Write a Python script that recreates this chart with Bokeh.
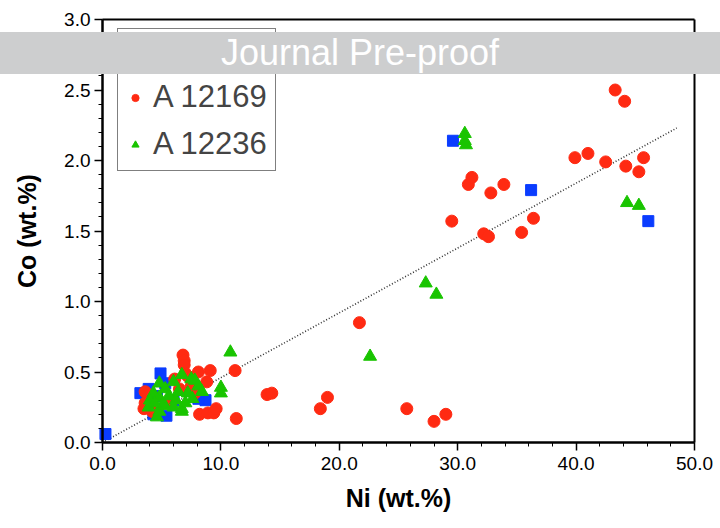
from bokeh.plotting import figure
from bokeh.models import (SingleIntervalTicker, NumeralTickFormatter, Legend, LegendItem,
                          Label, Range1d, LinearAxis, FixedTicker)
from bokeh.core.properties import value
from bokeh.embed import file_html
from bokeh.resources import INLINE
import bokeh.models as bm

# A 12169 (red circles)
a12169_ni = [29.5, 30.9, 31.2, 32.8, 33.9, 32.2, 32.6, 35.4, 36.4, 39.9, 41.0, 42.5, 44.2, 45.7, 45.3, 43.3, 44.1,
             21.7, 19.0, 18.4, 25.7, 28.0, 29.0, 13.9, 14.3,
             6.8, 6.9, 6.9, 7.0, 9.1, 11.2, 11.3, 8.2, 8.9, 9.4, 9.6, 8.1, 8.8, 3.6, 3.5, 3.6, 6.1, 7.5, 7.8, 5.6,
             4.2, 7.2, 6.5]
a12169_co = [1.57, 1.83, 1.88, 1.77, 1.83, 1.48, 1.46, 1.49, 1.59, 2.02, 2.05, 1.99, 1.96, 2.02, 1.92, 2.50, 2.42,
             0.85, 0.32, 0.24, 0.24, 0.15, 0.20, 0.34, 0.35,
             0.62, 0.58, 0.55, 0.49, 0.51, 0.51, 0.17, 0.20, 0.21, 0.21, 0.24, 0.50, 0.43, 0.36, 0.24, 0.28, 0.45,
             0.40, 0.35, 0.29, 0.22, 0.47, 0.38]

# third sample (blue squares)
blue_ni = [0.25, 4.9, 3.2, 8.7, 8.1, 5.3, 4.3, 5.4, 3.9, 29.6, 36.2, 46.1, 6.0, 4.6]
blue_co = [0.06, 0.49, 0.35, 0.30, 0.31, 0.42, 0.20, 0.19, 0.38, 2.14, 1.79, 1.57, 0.30, 0.33]

# A 12236 (green triangles)
a12236_ni = [30.6, 30.6, 30.7, 44.3, 45.3, 22.6, 28.2, 27.3, 10.8, 10.0, 10.0, 6.7, 6.0, 7.5, 7.8, 4.8, 5.3, 6.4,
             4.3, 4.8, 4.0, 5.2, 6.0, 6.7, 4.6, 6.7, 7.6, 7.2, 8.1, 3.9, 4.8, 5.6, 6.2, 7.0, 5.0, 4.4, 8.4]
a12236_co = [2.19, 2.14, 2.11, 1.70, 1.68, 0.61, 1.05, 1.13, 0.64, 0.39, 0.35, 0.48, 0.43, 0.45, 0.44, 0.42, 0.38,
             0.36, 0.35, 0.32, 0.30, 0.27, 0.25, 0.22, 0.18, 0.24, 0.31, 0.35, 0.40, 0.25, 0.22, 0.33, 0.30, 0.28,
             0.26, 0.28, 0.36]

fit_ni = [0.0, 48.5]
fit_co = [0.0, 2.23]

# axis limits
NI_MIN, NI_MAX = 0.0, 50.0
CO_MIN, CO_MAX = 0.0, 3.0

RED = "#ff2a12"
BLUE = "#0a3cff"
GREEN = "#19c400"

# frame covers the whole canvas; pixel margins around the plotting box
W, H = 720, 528
LEFT, RIGHT, TOP, BOTTOM = 102, 26, 19, 86
kx = (NI_MAX - NI_MIN) / (W - LEFT - RIGHT)
ky = (CO_MAX - CO_MIN) / (H - TOP - BOTTOM)

p = figure(width=W, height=H, output_backend="svg", toolbar_location=None,
           x_range=Range1d(NI_MIN - LEFT * kx, NI_MAX + RIGHT * kx),
           y_range=Range1d(CO_MIN - BOTTOM * ky, CO_MAX + TOP * ky),
           x_axis_location=None, y_axis_location=None,
           min_border=0)
p.grid.visible = False
p.outline_line_color = None
p.background_fill_color = "white"
p.border_fill_color = "white"

p.line(fit_ni, fit_co, line_color="#333333", line_width=1.6, line_dash="1 2")
r_blue = p.scatter(blue_ni, blue_co, marker="square", size=11, fill_color=BLUE, line_color=BLUE)
r_red = p.scatter(a12169_ni, a12169_co, marker="circle", size=12, fill_color=RED, line_color=RED)
r_green = p.scatter(a12236_ni, a12236_co, marker="triangle", size=13, fill_color=GREEN, line_color=GREEN)

xaxis = LinearAxis(fixed_location=CO_MIN, bounds=(NI_MIN, NI_MAX), axis_label="Ni (wt.%)",
                   ticker=SingleIntervalTicker(interval=10, num_minor_ticks=5))
yaxis = LinearAxis(fixed_location=NI_MIN, bounds=(CO_MIN, CO_MAX), axis_label="Co (wt.%)",
                   ticker=SingleIntervalTicker(interval=0.5, num_minor_ticks=5))
for ax in (xaxis, yaxis):
    ax.axis_line_width = 2.5
    ax.major_tick_line_width = 1.5
    ax.minor_tick_line_width = 1
    ax.major_tick_out = 8
    ax.major_tick_in = 0
    ax.minor_tick_out = 4
    ax.minor_tick_in = 0
    ax.major_label_text_font = "Liberation Sans"
    ax.major_label_text_font_size = "19px"
    ax.major_label_text_color = "black"
    ax.axis_label_text_font = "Liberation Sans"
    ax.axis_label_text_font_style = "bold"
    ax.axis_label_text_font_size = "25px"
    ax.axis_label_text_color = "black"
    ax.formatter = NumeralTickFormatter(format="0.0")
xaxis.major_label_standoff = 6
yaxis.major_label_standoff = 4
xaxis.axis_label_standoff = 11
yaxis.axis_label_standoff = 20
p.add_layout(xaxis, "below")
p.add_layout(yaxis, "left")

# top and right frame lines
top_axis = LinearAxis(fixed_location=CO_MAX, bounds=(NI_MIN, NI_MAX), ticker=FixedTicker(ticks=[]),
                      axis_line_width=2)
right_axis = LinearAxis(fixed_location=NI_MAX, bounds=(CO_MIN, CO_MAX), ticker=FixedTicker(ticks=[]),
                        axis_line_width=2)
p.add_layout(top_axis, "above")
p.add_layout(right_axis, "right")

legend = Legend(items=[
    LegendItem(label=value(" "), renderers=[r_blue]),
    LegendItem(label=value("A 12169"), renderers=[r_red]),
    LegendItem(label=value("A 12236"), renderers=[r_green]),
], location=(117, H - 171))
legend.label_text_font = "Liberation Sans"
legend.label_text_font_size = "31px"
legend.label_height = 31
legend.glyph_height = 31
legend.glyph_width = 18
legend.label_standoff = 9
legend.spacing = 11
legend.padding = 8
legend.margin = 0
legend.border_line_color = "black"
legend.border_line_width = 1
legend.background_fill_alpha = 1
p.add_layout(legend, "center")

BANNER = "Journal Pre-proof"
BannerLabel = getattr(bm, "HTMLLabel", Label)
banner_text = BannerLabel(x=W / 2, y=H - 53, x_units="screen", y_units="screen", text=BANNER,
                          text_font="'Liberation Serif', 'Times New Roman', serif", text_font_size="36px",
                          text_color="white", text_align="center", text_baseline="middle",
                          background_fill_color="#cdcecf", background_fill_alpha=1,
                          padding=dict(left=245, right=245, top=0, bottom=0))
p.add_layout(banner_text)

open("out.html", "w").write(file_html(p, INLINE))
